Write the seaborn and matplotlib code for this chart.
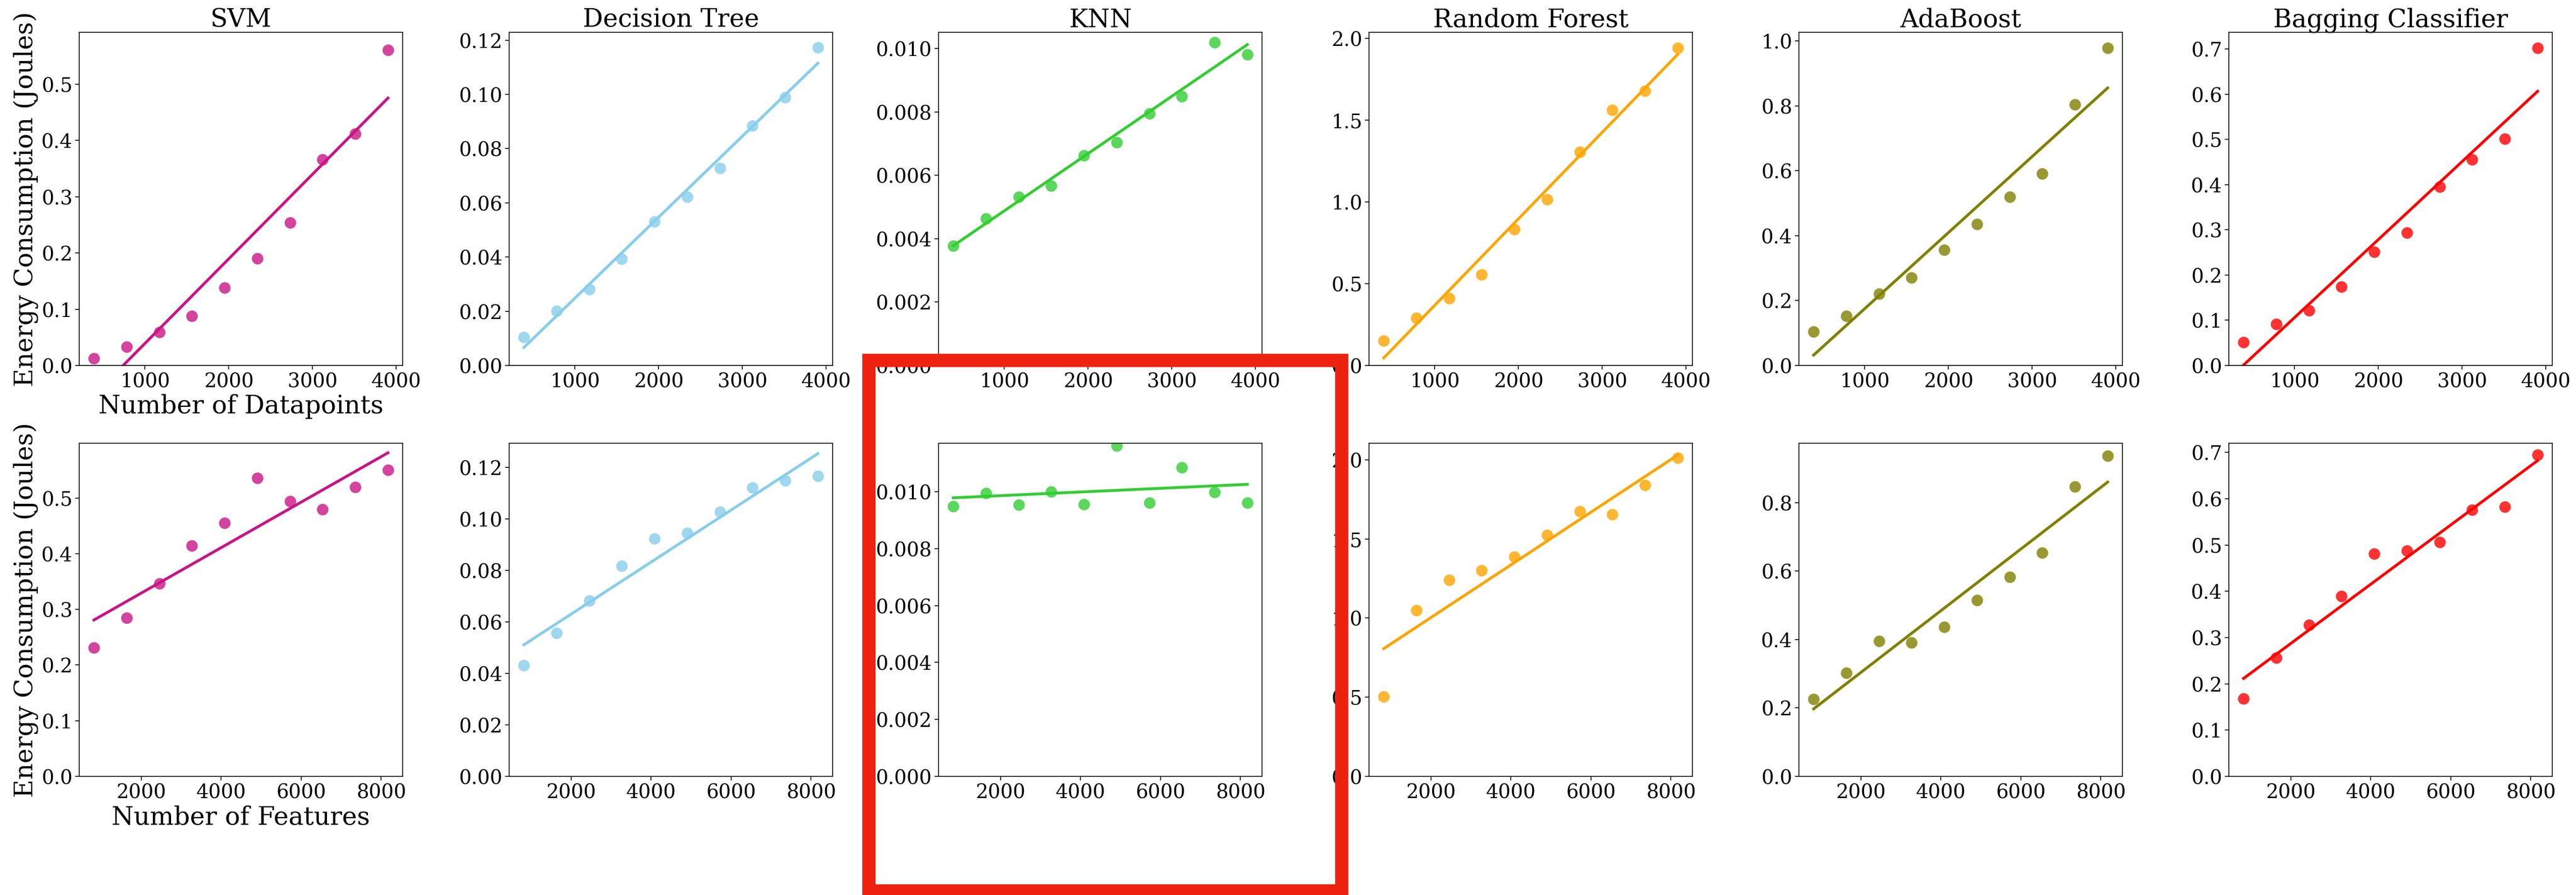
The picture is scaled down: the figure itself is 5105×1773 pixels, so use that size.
import matplotlib
matplotlib.use("Agg")
import matplotlib.pyplot as plt
import matplotlib.patches as mpatches
import seaborn as sns
import numpy as np

plt.rcParams['font.family'] = 'serif'
plt.rcParams['font.serif'] = ['DejaVu Serif']

# ---------------- data ----------------
models = ["SVM", "Decision Tree", "KNN", "Random Forest", "AdaBoost", "Bagging Classifier"]
colors = ["mediumvioletred", "skyblue", "limegreen", "orange", "olive", "red"]

datapoints = [390, 780, 1170, 1560, 1950, 2340, 2730, 3120, 3510, 3900]
features = [817, 1634, 2451, 3268, 4085, 4902, 5719, 6536, 7353, 8170]

svm_dp = [0.0124, 0.0334, 0.059, 0.0883, 0.138, 0.190, 0.254, 0.366, 0.412, 0.561]
dt_dp = [0.0105, 0.0202, 0.0282, 0.0392, 0.0530, 0.0622, 0.0728, 0.0884, 0.0989, 0.1173]
knn_dp = [0.00377, 0.00464, 0.00532, 0.00567, 0.00662, 0.00704, 0.00794, 0.00849, 0.01019, 0.00981]
rf_dp = [0.151, 0.289, 0.409, 0.555, 0.832, 1.016, 1.305, 1.560, 1.679, 1.940]
ada_dp = [0.105, 0.153, 0.221, 0.271, 0.357, 0.436, 0.520, 0.591, 0.804, 0.979]
bag_dp = [0.0512, 0.0911, 0.122, 0.174, 0.251, 0.294, 0.395, 0.456, 0.501, 0.702]

svm_ft = [0.231, 0.285, 0.346, 0.414, 0.455, 0.536, 0.494, 0.480, 0.520, 0.550]
dt_ft = [0.0432, 0.0556, 0.0682, 0.0818, 0.0924, 0.0945, 0.1027, 0.1122, 0.1149, 0.1167]
knn_ft = [0.00949, 0.00995, 0.00954, 0.00999, 0.00956, 0.01162, 0.00961, 0.01085, 0.00998, 0.00960]
rf_ft = [0.505, 1.048, 1.242, 1.301, 1.386, 1.523, 1.675, 1.655, 1.840, 2.012]
ada_ft = [0.226, 0.303, 0.395, 0.391, 0.437, 0.515, 0.583, 0.654, 0.847, 0.937]
bag_ft = [0.168, 0.256, 0.327, 0.390, 0.481, 0.488, 0.506, 0.576, 0.583, 0.695]

top_series = [svm_dp, dt_dp, knn_dp, rf_dp, ada_dp, bag_dp]
bot_series = [svm_ft, dt_ft, knn_ft, rf_ft, ada_ft, bag_ft]
top_ymax = [0.592, 0.1229, 0.01051, 2.036, 1.027, 0.737]
bot_ymax = [0.5985, 0.1294, 0.0117, 2.105, 0.974, 0.720]

# ---------------- figure ----------------
W, H = 5105, 1774
fig = plt.figure(figsize=(W / 100, H / 100), dpi=100)

lefts_px = [157, 1009, 1860, 2713, 3565, 4417]
ax_w = 641 / W
ax_h = 660 / H
top_bottom = (H - 725) / H
bot_bottom = (H - 1539) / H

TICK = 28
LAB = 36

def style(ax):
    ax.tick_params(labelsize=TICK, length=6, width=1.2)
    for s in ax.spines.values():
        s.set_linewidth(1.2)

for i, m in enumerate(models):
    for row, (xs, series, ymaxs, bottom) in enumerate([
            (datapoints, top_series, top_ymax, top_bottom),
            (features, bot_series, bot_ymax, bot_bottom)]):
        ax = fig.add_axes([lefts_px[i] / W, bottom, ax_w, ax_h])
        sns.regplot(x=np.array(xs), y=np.array(series[i]), ax=ax, ci=None,
                    color=colors[i],
                    scatter_kws={"s": 270, "alpha": 0.8, "linewidths": 0},
                    line_kws={"lw": 4})
        ax.set_ylim(0, ymaxs[i])
        style(ax)
        ax.set_xlabel("")
        ax.set_ylabel("")
        if row == 0:
            ax.set_title(m, fontsize=LAB, pad=8)
        if i == 0:
            ax.set_ylabel("Energy Consumption (Joules)", fontsize=LAB, labelpad=4)
            ax.set_xlabel("Number of Datapoints" if row == 0 else "Number of Features",
                          fontsize=LAB, labelpad=4)

# red highlight box
rect = mpatches.Rectangle((1722 / W, (H - 1766) / H), (2659 - 1722) / W, (1766 - 715) / H,
                          transform=fig.transFigure, fill=False,
                          edgecolor="#EE2211", linewidth=19, zorder=10)
fig.patches.append(rect)

fig.savefig("out.png", dpi=100)
